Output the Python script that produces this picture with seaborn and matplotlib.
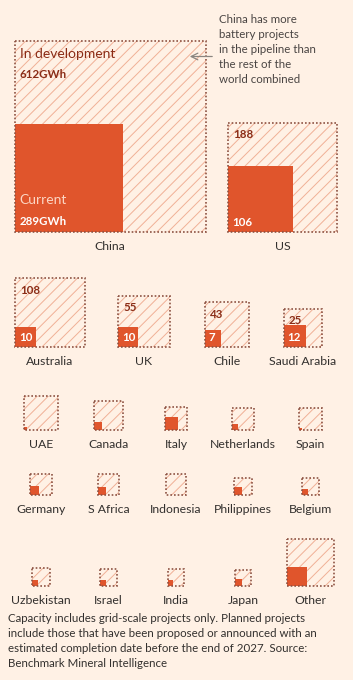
import matplotlib
matplotlib.use('Agg')
import matplotlib.pyplot as plt
from matplotlib.patches import Rectangle
import numpy as np
import seaborn as sns

# battery storage capacity, GWh
countries = ['China', 'US',
             'Australia', 'UK', 'Chile', 'Saudi Arabia',
             'UAE', 'Canada', 'Italy', 'Netherlands', 'Spain',
             'Germany', 'S Africa', 'Indonesia', 'Philippines', 'Belgium',
             'Uzbekistan', 'Israel', 'India', 'Japan', 'Other']
current = [289, 106,
           10, 10, 7, 12,
           0.2, 1.6, 4.2, 1.0, 0.15,
           2.0, 1.7, 0, 1.5, 1.0,
           0.8, 1.0, 0.8, 1.3, 9.2]
in_development = [612, 188,
                  108, 55, 43, 25,
                  28.4, 18.8, 8.5, 11.0, 11.9,
                  9.2, 9.5, 10.6, 5.9, 6.4,
                  6.8, 6.1, 6.3, 5.3, 44.3]
n_labelled = 6

# layout (pixel coordinates)
row_sizes = [2, 4, 5, 5, 5]
row_centers = [[110, 282.5],
               [50, 144, 227, 303],
               [41, 108.5, 176, 243, 310.5],
               [41, 108.5, 176, 243, 310.5],
               [41, 108.5, 176, 243, 310.5]]
row_base = [232, 347.3, 430, 495, 586]

sns.set_theme(style='white')
bg = '#fff1e5'
plt.rcParams['font.family'] = ['Lato', 'DejaVu Sans']
plt.rcParams['hatch.linewidth'] = 0.7

orange = '#e0552c'
hatch_col = '#f0b096'
border = '#8e5343'
dark = '#8a2c16'
txt = '#33302e'

fig = plt.figure(figsize=(3.53, 6.8), dpi=100, facecolor=bg)
ax = fig.add_axes([0, 0, 1, 1])
ax.set_facecolor(bg)
ax.set_xlim(0, 353)
ax.set_ylim(680, 0)
ax.axis('off')

k = 191 / np.sqrt(current[0] + in_development[0])

i = 0
for r, n in enumerate(row_sizes):
    for j in range(n):
        cx = row_centers[r][j]
        base = row_base[r]
        total = current[i] + in_development[i]
        side = k * np.sqrt(total)
        left = cx - side / 2
        top = base - side
        ax.add_patch(Rectangle((left, top), side, side, facecolor='none',
                               edgecolor=hatch_col, hatch='///', lw=0))
        cs = k * np.sqrt(current[i])
        if cs > 0:
            ax.add_patch(Rectangle((left, base - cs), cs, cs,
                                   facecolor=orange, edgecolor='none'))
        ax.add_patch(Rectangle((left, top), side, side, facecolor='none',
                               edgecolor=border, lw=1.2, linestyle=(0, (1, 1.2))))
        ax.text(cx, base + 14.5, countries[i], ha='center', va='center',
                fontsize=8.8, color=txt)
        if i < n_labelled:
            if i == 0:
                ax.text(left + 5, top + 12.5, 'In development', fontsize=10,
                        color=dark, va='center', ha='left')
                ax.text(left + 5, top + 34, f'{in_development[i]:g}GWh', fontsize=8.3,
                        color=dark, fontweight='bold', va='center', ha='left')
                ax.text(left + 5, base - 31.5, 'Current', fontsize=10,
                        color='#fcd6c4', va='center', ha='left')
                ax.text(left + 5, base - 10.5, f'{current[i]:g}GWh', fontsize=8.3,
                        color='white', fontweight='bold', va='center', ha='left')
            else:
                ax.text(left + 5, top + 12, f'{in_development[i]:g}', fontsize=8.3,
                        color=dark, fontweight='bold', va='center', ha='left')
                ax.text(left + 4, base - 10, f'{current[i]:g}', fontsize=8.3,
                        color='white', fontweight='bold', va='center', ha='left')
        i += 1

ax.text(219, 14, 'China has more\nbattery projects\nin the pipeline than\nthe rest of the\nworld combined',
        ha='left', va='top', fontsize=8.3, color='#4a4543', linespacing=1.45)
ax.annotate('', xy=(187, 56.5), xytext=(215, 56.5),
            arrowprops=dict(arrowstyle='->', color='#8a8580', lw=0.9))

note = ('Capacity includes grid-scale projects only. Planned projects\n'
        'include those that have been proposed or announced with an\n'
        'estimated completion date before the end of 2027. Source:\n'
        'Benchmark Mineral Intelligence')
ax.text(8, 612.5, note, ha='left', va='top', fontsize=8.3, color=txt, linespacing=1.47)

fig.savefig('out.png', dpi=100, facecolor=bg)
